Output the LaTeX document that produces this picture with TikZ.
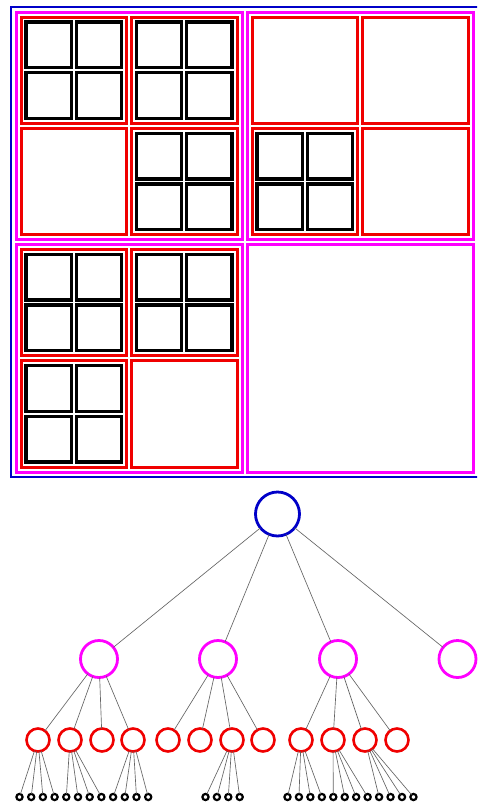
\documentclass[tikz,border=0pt]{standalone}
\definecolor{qblue}{RGB}{0,0,200}
\definecolor{qmag}{RGB}{255,0,255}
\definecolor{qred}{RGB}{240,0,0}
\definecolor{qgray}{RGB}{100,100,100}
\tikzset{
  bsq/.style={draw=qblue,line width=2.5pt},
  msq/.style={draw=qmag,line width=3pt},
  rsq/.style={draw=qred,line width=3pt},
  ksq/.style={draw=black,line width=3.3pt},
  tnode/.style={circle,inner sep=0pt,outer sep=0pt,fill=white},
  broot/.style={tnode,draw=qblue,line width=2.8pt,minimum size=44pt},
  mnode/.style={tnode,draw=qmag,line width=2.8pt,minimum size=37pt},
  rnode/.style={tnode,draw=qred,line width=2.6pt,minimum size=23pt},
  knode/.style={tnode,draw=black,line width=2.2pt,minimum size=6.2pt},
  link/.style={draw=qgray,line width=0.65pt}
}
\newcommand\kidsq[4]{%
  \pgfmathsetmacro\kmx{(#1+#3)/2}\pgfmathsetmacro\kmy{(#2+#4)/2}%
  \pgfmathsetmacro\kxa{#1+5}\pgfmathsetmacro\kxb{\kmx-2.5}%
  \pgfmathsetmacro\kxc{\kmx+2.5}\pgfmathsetmacro\kxd{#3-5}%
  \pgfmathsetmacro\kya{#2+5}\pgfmathsetmacro\kyb{\kmy-2.5}%
  \pgfmathsetmacro\kyc{\kmy+2.5}\pgfmathsetmacro\kyd{#4-5}%
  \draw[ksq] (\kxa,\kya) rectangle (\kxb,\kyb);
  \draw[ksq] (\kxc,\kya) rectangle (\kxd,\kyb);
  \draw[ksq] (\kxa,\kyc) rectangle (\kxb,\kyd);
  \draw[ksq] (\kxc,\kyc) rectangle (\kxd,\kyd);
}
\begin{document}
\begin{tikzpicture}[x=1pt,y=-1pt]
\useasboundingbox[fill=white] (0,0) rectangle (477,803);
% ---------- quadtree squares ----------
\begin{scope}
\clip (0,0) rectangle (477,803);
\draw[bsq] (11,7) rectangle (479.5,477);
\end{scope}
\draw[msq] (16,12) rectangle (242,239.5);
\draw[msq] (247,12) rectangle (473.5,239.5);
\draw[msq] (16,244.5) rectangle (242,472);
\draw[msq] (247,244.5) rectangle (473.5,472);
% red in TL magenta
\draw[rsq] (21,17) rectangle (126.5,123.25);
\draw[rsq] (131.5,17) rectangle (237,123.25);
\draw[rsq] (21,128.25) rectangle (126.5,234.5);
\draw[rsq] (131.5,128.25) rectangle (237,234.5);
% red in TR magenta
\draw[rsq] (252,17) rectangle (357.5,123.25);
\draw[rsq] (362.5,17) rectangle (468.5,123.25);
\draw[rsq] (252,128.25) rectangle (357.5,234.5);
\draw[rsq] (362.5,128.25) rectangle (468.5,234.5);
% red in BL magenta
\draw[rsq] (21,249.5) rectangle (126.5,355.75);
\draw[rsq] (131.5,249.5) rectangle (237,355.75);
\draw[rsq] (21,360.75) rectangle (126.5,467);
\draw[rsq] (131.5,360.75) rectangle (237,467);
% black leaves
\kidsq{21}{17}{126.5}{123.25}
\kidsq{131.5}{17}{237}{123.25}
\kidsq{131.5}{128.25}{237}{234.5}
\kidsq{252}{128.25}{357.5}{234.5}
\kidsq{21}{249.5}{126.5}{355.75}
\kidsq{131.5}{249.5}{237}{355.75}
\kidsq{21}{360.75}{126.5}{467}
% ---------- tree ----------
\node[broot] (root) at (277.5,514) {};
\node[mnode] (m1) at (99,659) {};
\node[mnode] (m2) at (218,659) {};
\node[mnode] (m3) at (338,659) {};
\node[mnode] (m4) at (457.5,659) {};
\foreach \x [count=\i] in {38,70,102,133,168,200,232,263,301,333,365,397}
  \node[rnode] (r\i) at (\x,740) {};
\foreach \i in {1,...,12}
  \node[knode] (b\i) at ({19.5+11.7*(\i-1)},797) {};
\foreach \i in {1,...,4}
  \node[knode] (c\i) at ({205.5+11.4*(\i-1)},797) {};
\foreach \i in {1,...,12}
  \node[knode] (e\i) at ({287.5+11.45*(\i-1)},797) {};
% links
\foreach \m in {1,...,4} \draw[link] (root) -- (m\m);
\foreach \r in {1,...,4} \draw[link] (m1) -- (r\r);
\foreach \r in {5,...,8} \draw[link] (m2) -- (r\r);
\foreach \r in {9,...,12} \draw[link] (m3) -- (r\r);
\foreach \k in {1,...,4} \draw[link] (r1) -- (b\k);
\foreach \k in {5,...,8} \draw[link] (r2) -- (b\k);
\foreach \k in {9,...,12} \draw[link] (r4) -- (b\k);
\foreach \k in {1,...,4} \draw[link] (r7) -- (c\k);
\foreach \k in {1,...,4} \draw[link] (r9) -- (e\k);
\foreach \k in {5,...,8} \draw[link] (r10) -- (e\k);
\foreach \k in {9,...,12} \draw[link] (r11) -- (e\k);
\end{tikzpicture}
\end{document}
